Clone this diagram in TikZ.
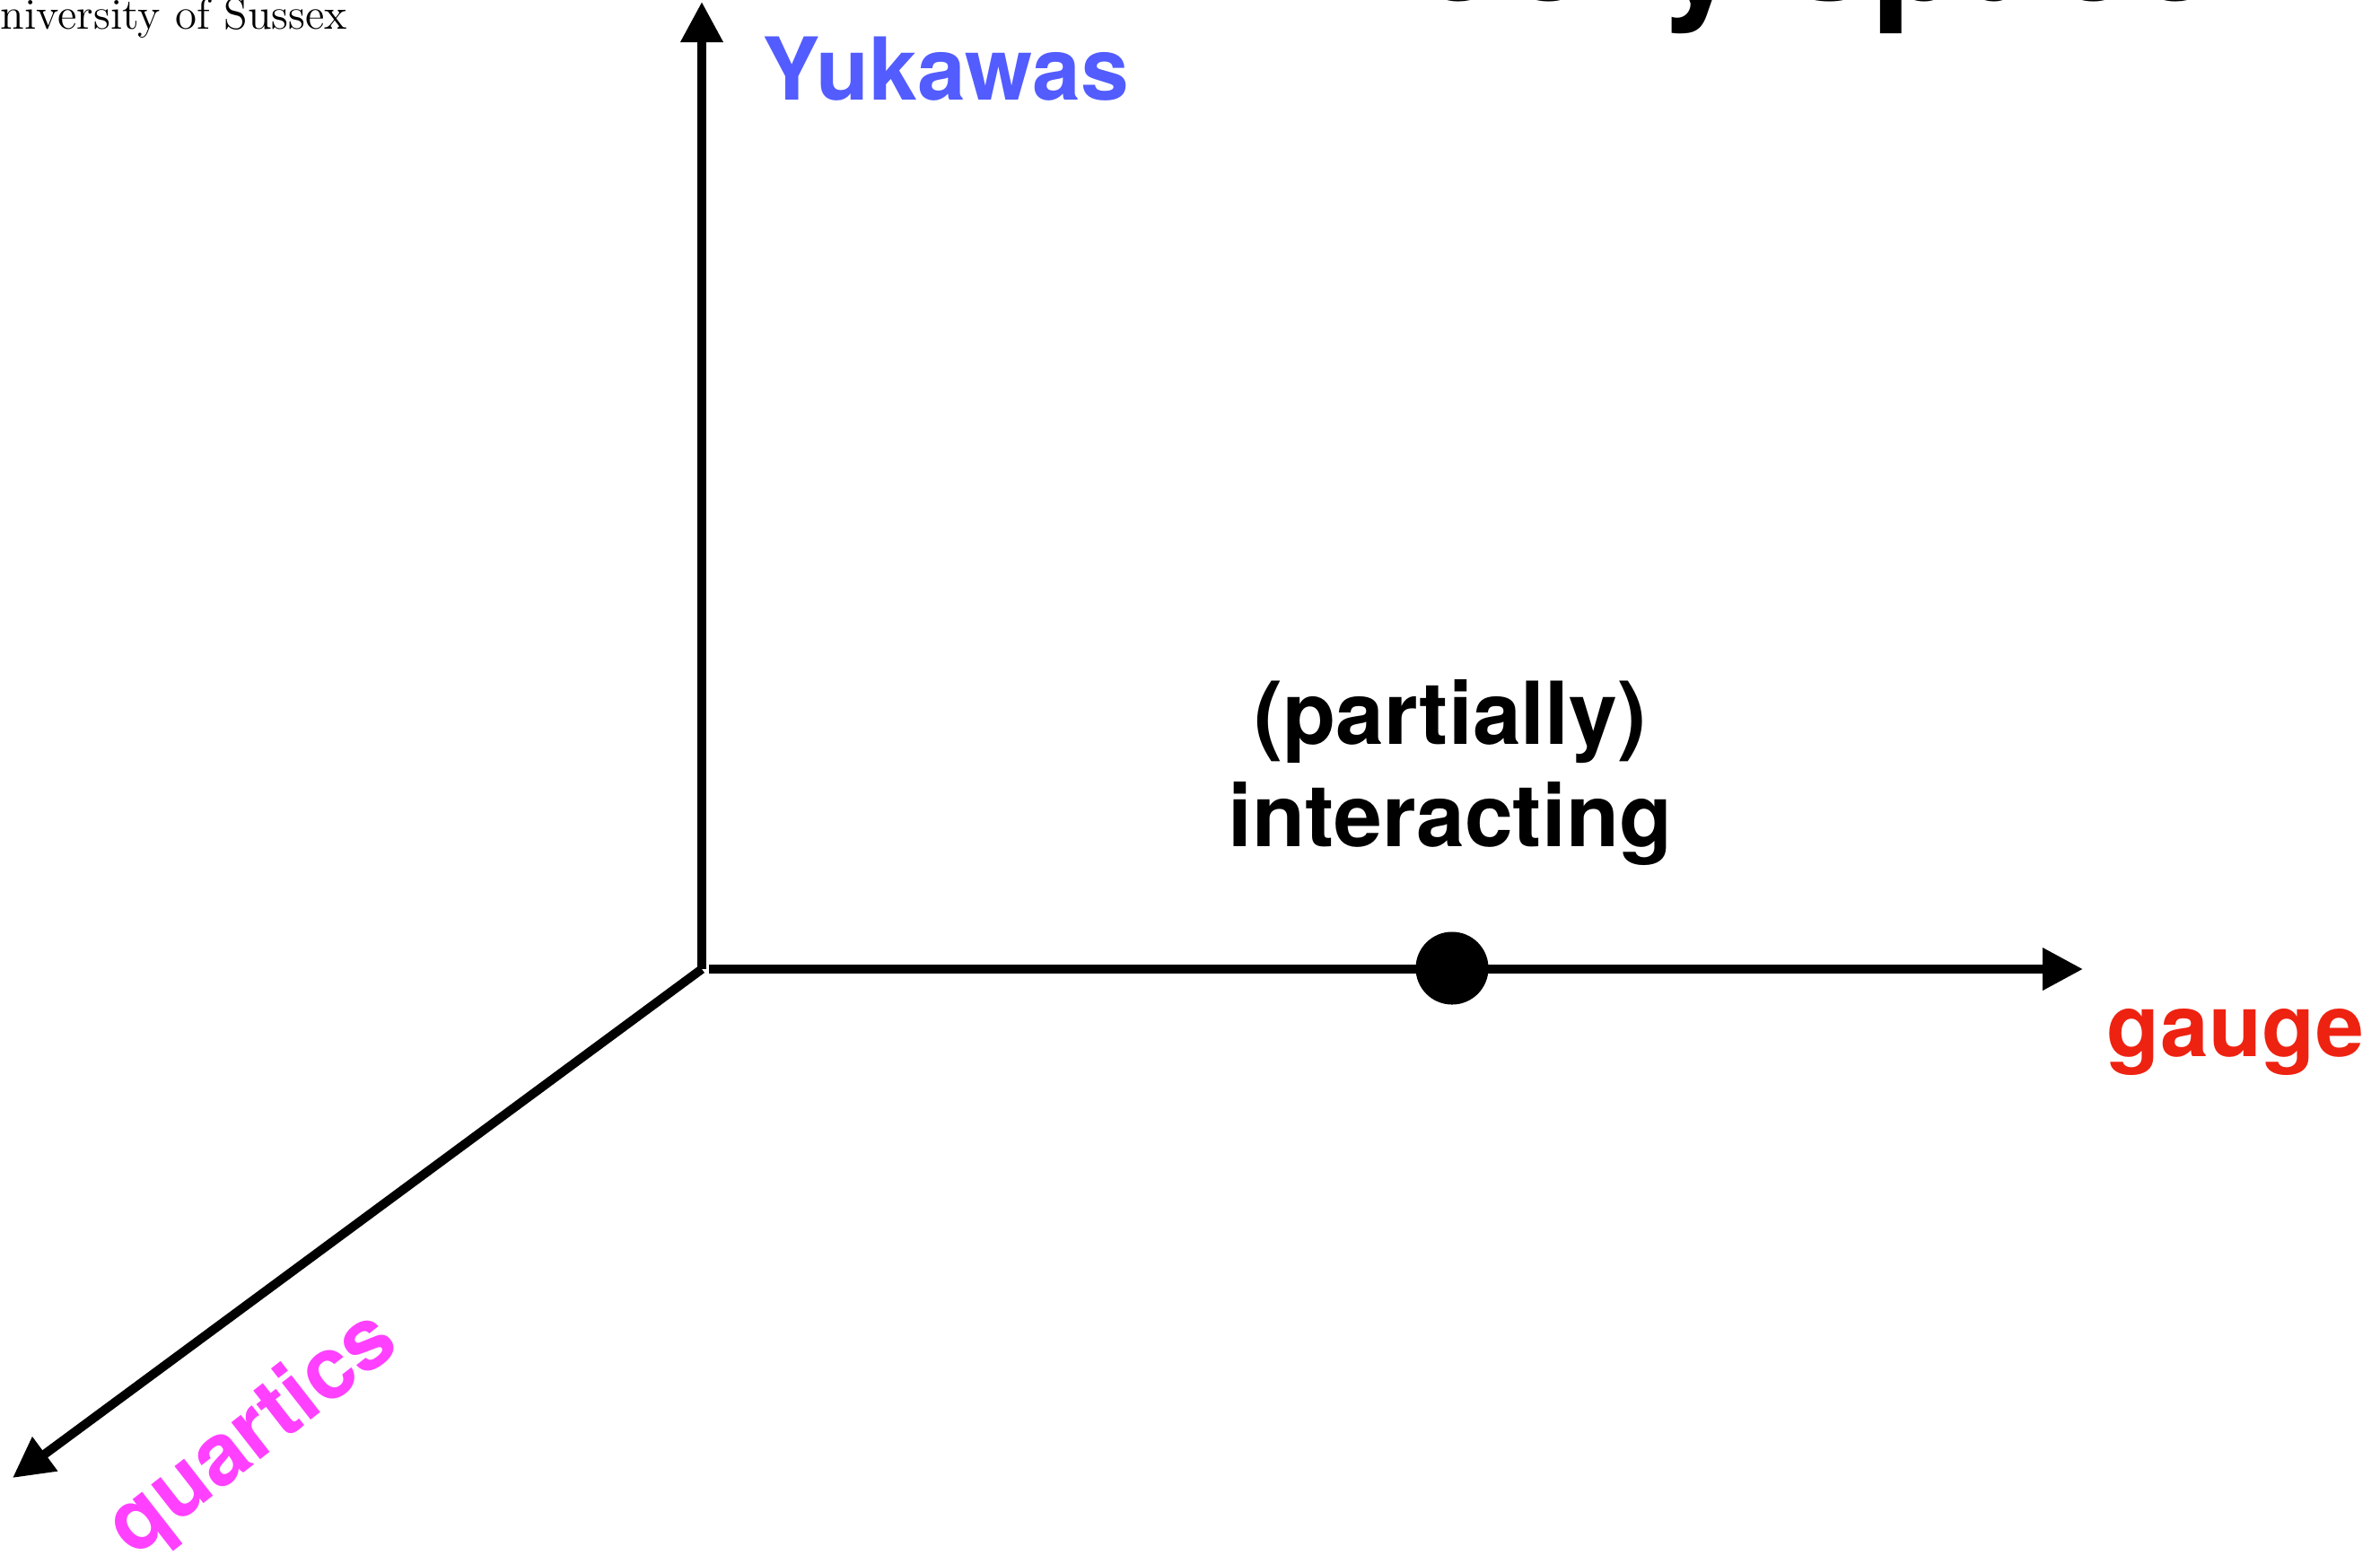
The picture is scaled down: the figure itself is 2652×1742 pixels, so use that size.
\documentclass[tikz,border=0pt]{standalone}
\usepackage{fontspec}
\newfontfamily\heros{TeX Gyre Heros}
\usetikzlibrary{arrows.meta}

\definecolor{yukblue}{RGB}{82,92,255}
\definecolor{gaugered}{RGB}{238,34,17}
\definecolor{quartmag}{RGB}{255,64,255}

\tikzset{
  axisline/.style={line width=2.85pt, -{Triangle[length=0.45cm,width=0.45cm]}},
  axislabel/.style={inner sep=0pt, font=\heros\bfseries\fontsize{27.5pt}{32.4pt}\selectfont},
  fixedpoint/.style={circle, fill=black, inner sep=0pt, minimum size=0.81cm},
}

\begin{document}
\begin{tikzpicture}[x=0.01cm, y=-0.01cm]
  \useasboundingbox (0,0) rectangle (2652,1742);

  % header fragments
  \node[inner sep=0pt, anchor=base west, font=\fontsize{13.9pt}{16pt}\selectfont]
    (uni) at (0,32) {niversity of Sussex};
  \node[inner sep=0pt, anchor=base east, font=\heros\bfseries\fontsize{48.4pt}{56pt}\selectfont]
    (title) at (2474,0) {Theory space};

  % axes
  \coordinate (O) at (782,1080);
  \coordinate (xstart) at (790,1080);
  \coordinate (ytip) at (782,2);
  \coordinate (xtip) at (2321,1080);
  \coordinate (ztip) at (14,1647);

  \draw[axisline] (O) -- (ytip);
  \draw[axisline] (xstart) -- (xtip);
  \draw[axisline] (O) -- (ztip);

  % axis labels
  \node[axislabel, text=yukblue, anchor=base west] (yuk) at (849,111) {Yukawas};
  \node[axislabel, text=gaugered, anchor=base west] (gauge) at (2347,1177) {gauge};
  \node[axislabel, text=quartmag, rotate=38] (quart) at (283,1600) {quartics};

  % fixed point on the gauge axis
  \node[fixedpoint] (fp) at (1618,1079) {};
  \node[axislabel, align=center] (fplabel) at (1616,861) {(partially)\\interacting};
\end{tikzpicture}
\end{document}
